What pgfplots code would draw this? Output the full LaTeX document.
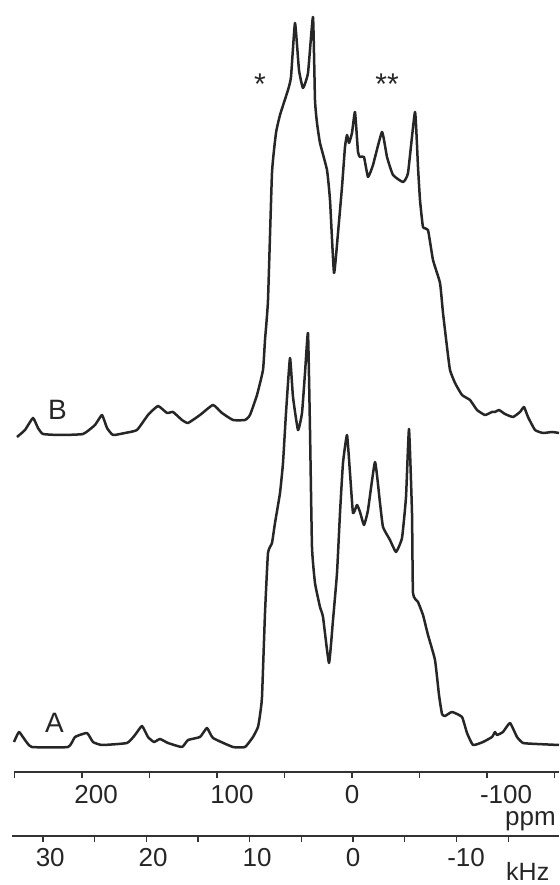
\documentclass[border=0pt]{standalone}
\usepackage{fontspec}
\setmainfont{Liberation Sans}
\usepackage{pgfplots}
\pgfplotsset{compat=1.18}
\begin{document}
\begin{tikzpicture}
\useasboundingbox (0,0) rectangle (559pt,885pt);
\begin{axis}[
  at={(14pt,113pt)}, anchor=south west,
  scale only axis, width=545pt, height=772pt,
  x dir=reverse, xmin=-153.33, xmax=250.37,
  ymin=113, ymax=885,
  axis x line=bottom, axis y line=none,
  axis line style={-, line width=1.6pt, black!80},
  xtick={189.6,88.9,0,-114.1},
  xticklabels={200,100,0,-100},
  minor xtick={250,200,...,-150},
  tick align=outside, major tick length=0pt, minor tick length=6pt,
  every minor tick/.style={line width=1.2pt, black!80},
  tick label style={font=\fontsize{26}{30}\selectfont, text=black!85, yshift=-10pt},
  clip=false,
]
% spectrum B (upper trace)
\addplot[line width=2.5pt, black!85, line join=round, smooth, tension=0.25] coordinates {
(248.15,448)(242.22,455)(236.30,467)(232.59,457)(228.89,451)(216.30,450)(199.26,451)
(190.37,460)(185.19,470)(181.48,457)(177.04,450)(168.15,452)(159.26,455)(151.11,470)
(143.70,479)(137.04,472)(132.59,473)(125.93,465)(121.48,462)(112.59,470)(102.96,480)
(96.30,472)(88.15,465)(79.26,465)(75.56,470)(70.37,490)(65.93,515)(64.44,545)
(62.22,585)(59.26,712)(56.30,752)(53.33,770)(47.41,795)(45.19,808)(42.22,862)
(39.26,815)(36.30,797)(32.59,812)(28.89,868)(27.41,785)(25.93,762)(23.70,742)
(18.52,715)(16.30,685)(13.33,612)(10.37,652)(7.41,698)(5.19,738)(3.70,750)
(2.22,742)(0,752)(-2.22,773)(-4.44,733)(-5.93,728)(-8.89,728)(-11.85,708)
(-15.56,720)(-22.22,753)(-25.93,728)(-30.37,710)(-37.78,703)(-41.48,712)
(-46.67,773)(-48.89,718)(-50.37,685)(-52.59,658)(-56.30,655)(-60.00,625)
(-65.19,602)(-67.41,572)(-70.37,538)(-72.59,515)(-76.30,502)(-81.48,490)
(-87.41,485)(-92.59,475)(-98.52,470)(-103.70,473)(-105.93,473)(-108.89,475)
(-113.33,471)(-119.26,468)(-124.44,473)(-127.41,478)(-130.37,468)(-135.56,455)
(-141.48,452)(-148.15,453)(-153.33,452)
};
% spectrum A (lower trace)
\addplot[line width=2.5pt, black!85, line join=round, smooth, tension=0.25] coordinates {
(250.37,143)(246.67,153)(242.22,145)(237.04,138)(210.37,138)(205.19,148)(196.30,152)
(191.85,143)(185.19,140)(166.67,142)(160.74,150)(155.56,159)(151.11,148)(146.67,143)
(142.22,146)(136.30,142)(125.93,138)(121.48,145)(112.59,148)(107.41,157)(102.96,147)
(88.15,138)(79.26,138)(73.33,148)(69.63,158)(68.15,170)(66.67,188)(64.44,272)
(62.22,332)(59.26,342)(57.04,362)(53.33,392)(51.11,422)(48.89,472)(45.93,527)
(43.70,488)(40.00,455)(37.04,472)(34.81,512)(32.59,552)(31.11,455)(29.63,338)
(27.41,302)(23.70,278)(21.48,268)(17.04,222)(14.07,265)(11.11,312)(8.89,372)
(6.67,422)(3.70,450)(1.48,412)(-0.74,372)(-3.70,380)(-5.93,373)(-8.89,360)
(-11.85,375)(-17.04,423)(-20.74,382)(-22.96,358)(-28.15,345)(-32.59,333)
(-37.04,347)(-40.00,388)(-42.22,456)(-44.44,372)(-45.19,292)(-48.89,283)
(-52.59,270)(-56.30,250)(-61.48,225)(-64.44,190)(-66.67,171)(-68.89,169)
(-74.07,173)(-81.48,168)(-85.19,152)(-89.63,140)(-97.04,143)(-103.70,148)
(-105.93,153)(-107.41,150)(-111.85,153)(-117.04,162)(-122.22,148)(-126.67,142)
(-137.04,141)(-153.33,140)
};
\node[anchor=base west, inner sep=0pt, font=\fontsize{28}{32}\selectfont, text=black!85] at (axis cs:225.2,465) {B};
\node[anchor=base west, inner sep=0pt, font=\fontsize{28}{32}\selectfont, text=black!85] at (axis cs:227.4,152) {A};
\node[anchor=base, inner sep=0pt, font=\fontsize{30}{34}\selectfont, text=black!85] at (axis cs:68.15,790) {*};
\node[anchor=base, inner sep=0pt, font=\fontsize{30}{34}\selectfont, text=black!85] at (axis cs:-25.93,790) {**};
\end{axis}
\begin{axis}[
  at={(12pt,49pt)}, anchor=south west,
  scale only axis, width=547pt, height=10pt,
  x dir=reverse, xmin=-19.92, xmax=33.0, ymin=0, ymax=1,
  axis x line=bottom, axis y line=none,
  axis line style={-, line width=1.6pt, black!80},
  xtick={29.30,19.34,9.28,0,-10.93},
  xticklabels={30,20,10,0,-10},
  minor xtick={30,25,...,-15},
  tick align=outside, major tick length=0pt, minor tick length=6pt,
  every minor tick/.style={line width=1.2pt, black!80},
  tick label style={font=\fontsize{26}{30}\selectfont, text=black!85, yshift=-9pt},
]
\end{axis}
\node[anchor=base west, inner sep=0pt, font=\fontsize{26}{30}\selectfont, text=black!85] at (505pt,59.5pt) {ppm};
\node[anchor=base west, inner sep=0pt, font=\fontsize{25}{30}\selectfont, text=black!85] at (506pt,5pt) {kHz};
\end{tikzpicture}
\end{document}
